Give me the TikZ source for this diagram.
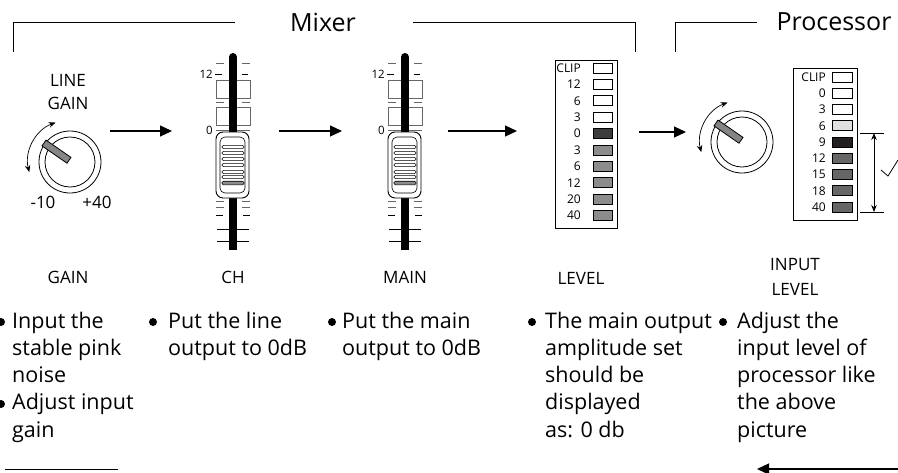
\documentclass[tikz,border=0pt]{standalone}
\usepackage{fontspec}
\setmainfont{Open Sans}
\usetikzlibrary{arrows.meta,calc}
\definecolor{ledmid}{HTML}{8C8C8C}
\definecolor{leddark}{HTML}{3C3C3C}
\definecolor{ledpro}{HTML}{666666}
\definecolor{ledblack}{HTML}{231F20}
\definecolor{ledlight}{HTML}{E0E0E0}
\definecolor{tick}{HTML}{666666}
\tikzset{
  flow/.style={-{Triangle[length=12pt,width=11pt]}, line width=1.2pt},
  bracketline/.style={line width=1pt},
  body/.style={font=\fontsize{21.5}{27}\selectfont, anchor=base west, inner sep=0pt},
  lab/.style={font=\fontsize{17}{20}\selectfont, inner sep=0pt},
  ttl/.style={font=\fontsize{25}{28}\selectfont, inner sep=0pt},
  mlab/.style={font=\fontsize{12}{13}\selectfont, anchor=east, inner sep=0pt},
  flab/.style={font=\fontsize{11.5}{13}\selectfont, anchor=east, inner sep=0pt},
  led/.style={draw, line width=0.7pt},
  dot/.style={circle, fill, inner sep=0pt, minimum size=8pt},
  knob/.pic={
    \draw[line width=0.8pt] (0,0) circle (31);
    \draw[line width=0.8pt] (0,0) circle (25);
    \draw[line width=0.8pt, fill=ledpro!80!white] (-28,-16.1) -- (-3,1.2) -- (1,-4.6) -- (-24,-21.9) -- cycle;
    \draw[line width=0.7pt, {Stealth[length=7pt,width=5.5pt]}-{Stealth[length=7pt,width=5.5pt]}] (250:42) arc[start angle=250, end angle=166, radius=42];
  },
  fader/.pic={
    \draw[tick, line width=0.6pt] (-17,80) rectangle (17,98);
    \draw[tick, line width=0.6pt] (-17,107) rectangle (17,125);
    \draw[tick, line width=0.6pt] (-17,63) -- (-9,63) (9,63) -- (17,63);
    \draw[line width=0.6pt] (-18,74) -- (-11,74) (9,74) -- (15,74);
    \draw[tick, line width=0.6pt] (-17,102) -- (-9,102) (9,102) -- (17,102);
    \draw[tick, line width=0.6pt] (-17,130) -- (17,130);
    \draw[tick, line width=0.6pt] (-17,201) -- (-9,201) (9,201) -- (17,201);
    \draw[tick, line width=0.6pt] (-17,207) -- (-9,207) (9,207) -- (17,207);
    \draw[line width=0.6pt] (-17,215) -- (-10,215) (10,215) -- (17,215);
    \draw[line width=0.6pt] (-16,229) -- (16,229) (-16,241) -- (16,241);
    \draw[line width=8pt, line cap=round] (0,57) -- (0,246);
    \draw[line width=8pt] (0,240) -- (0,250);
    \draw[line width=0.9pt, fill=white, rounded corners=7pt] (-17,132) rectangle (16,198);
    \draw[line width=0.6pt, rounded corners=5pt] (-13,137) rectangle (12,193);
    \foreach \yy in {147,153,159,165,172,177}
      \draw[line width=0.6pt, rounded corners=1.3pt] (-11,\yy-1.6) rectangle (11,\yy+1.6);
    \draw[line width=0.6pt, rounded corners=1.3pt, fill=ledmid] (-11,183-1.8) rectangle (11,183+1.8);
  }
}
\newcommand\textcol[3]{%
  \foreach \lineTxt [count=\k] in {#3} {\node[body] (#1\k) at (#2,328+27.3*\k-27.3) {\lineTxt};}%
}
\begin{document}
\begin{tikzpicture}[x=1pt,y=-1pt]
\useasboundingbox (0,0) rectangle (898,472);

% brackets and titles
\coordinate (mL0) at (13,52); \coordinate (mL1) at (13,22); \coordinate (mL2) at (235,22);
\coordinate (mR0) at (413,22); \coordinate (mR1) at (635,22); \coordinate (mR2) at (635,52);
\coordinate (pL0) at (675,52); \coordinate (pL1) at (675,22); \coordinate (pL2) at (757,22);
\draw[bracketline] (mL0) -- (mL1) -- (mL2);
\draw[bracketline] (mR0) -- (mR1) -- (mR2);
\draw[bracketline] (pL0) -- (pL1) -- (pL2);
\node[ttl] (mixer) at (323,22) {Mixer};
\node[ttl] (proc) at (834,22) {Processor};

% gain knob
\node[lab] (line) at (68,80) {LINE};
\node[lab] (gain) at (68,103) {GAIN};
\pic (k1) at (70,162) {knob};
\node[lab] (m10) at (43,202) {-10};
\node[lab] (p40) at (97,202) {+40};

% faders
\pic (f1) at (233,0) {fader};
\node[flab] (f1a) at (213,74) {12};
\node[flab] (f1b) at (213,130) {0};
\pic (f2) at (405,0) {fader};
\node[flab] (f2a) at (385,74) {12};
\node[flab] (f2b) at (385,130) {0};

% meter 1
\node[draw, line width=0.8pt, minimum width=62pt, minimum height=168pt, inner sep=0pt] (meterA) at (586,144) {};
\foreach \lbl/\col [count=\i from 0] in {CLIP/white,12/white,6/white,3/white,0/leddark,3/ledmid,6/ledmid,12/ledmid,20/ledmid,40/ledmid}{
  \node[mlab] (ma\i) at (581,68+16.4*\i) {\lbl};
  \draw[led, fill=\col] (593,68+16.4*\i-5) rectangle (612,68+16.4*\i+5);
}

% processor knob
\pic (k2) at (742,142) {knob};

% meter 2
\node[draw, line width=0.8pt, minimum width=64pt, minimum height=152pt, inner sep=0pt] (meterB) at (825,144) {};
\foreach \lbl/\col [count=\i from 0] in {CLIP/white,0/white,3/white,6/ledlight,9/ledblack,12/ledpro,15/ledpro,18/ledpro,40/ledpro}{
  \node[mlab] (mb\i) at (826,77+16.25*\i) {\lbl};
  \draw[led, fill=\col] (832,77+16.25*\i-5) rectangle (852,77+16.25*\i+5);
}
\coordinate (rt) at (874,133); \coordinate (rb) at (874,212);
\draw[line width=0.8pt] (860,133) -- (884,133) (860,212) -- (884,212);
\draw[line width=0.8pt, {Stealth[length=7pt,width=5.5pt]}-{Stealth[length=7pt,width=5.5pt]}] (rt) -- (rb);
\draw[line width=0.8pt] (881,170) -- (888,176) -- (898,160);

% flow arrows
\coordinate (a1s) at (110,131); \coordinate (a1e) at (172,131);
\coordinate (a2s) at (279,131); \coordinate (a2e) at (342,131);
\coordinate (a3s) at (448,131); \coordinate (a3e) at (517,131);
\coordinate (a4s) at (639,132); \coordinate (a4e) at (686,132);
\draw[flow] (a1s) -- (a1e);
\draw[flow] (a2s) -- (a2e);
\draw[flow] (a3s) -- (a3e);
\draw[flow] (a4s) -- (a4e);

% bottom labels
\node[lab] (lgain) at (68,277) {GAIN};
\node[lab] (lch) at (233,277) {CH};
\node[lab] (lmain) at (405,277) {MAIN};
\node[lab] (llevel) at (581,278) {LEVEL};
\node[lab] (linput) at (795,265) {INPUT};
\node[lab] (llevel2) at (795,289) {LEVEL};

% bullet texts
\textcol{ta}{12}{Input the,stable pink,noise,Adjust input,gain}
\node[dot] (da1) at (1,322) {};
\node[dot] (da2) at (1,404) {};
\textcol{tb}{168}{Put the line,output to 0dB}
\node[dot] (db1) at (153,322) {};
\textcol{tc}{342}{Put the main,output to 0dB}
\node[dot] (dc1) at (332,322) {};
\textcol{td}{545}{The main output,amplitude set,should be,displayed,as: 0 db}
\node[dot] (dd1) at (532,322) {};
\textcol{te}{737}{Adjust the,input level of,processor like,the above,picture}
\node[dot] (de1) at (723,322) {};

% bottom lines
\coordinate (bl0) at (5,469); \coordinate (bl1) at (118,469);
\draw[line width=1pt] (bl0) -- (bl1);
\coordinate (br0) at (898,469); \coordinate (br1) at (757,469);
\draw[flow] (br0) -- (br1);
\end{tikzpicture}
\end{document}
